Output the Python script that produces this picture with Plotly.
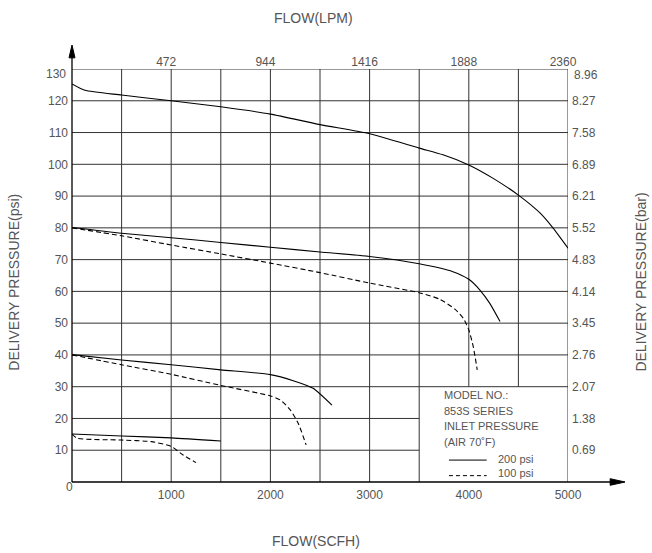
import plotly.graph_objects as go

# ---- data ----
flow_ticks = [1000, 2000, 3000, 4000, 5000]
lpm_labels = ["472", "944", "1416", "1888", "2360"]
psi_ticks = [10, 20, 30, 40, 50, 60, 70, 80, 90, 100, 110, 120, 130]
bar_labels = ["0.69", "1.38", "2.07", "2.76", "3.45", "4.14", "4.83",
              "5.52", "6.21", "6.89", "7.58", "8.27", "8.96"]

flow_200_a = [0, 130, 500, 1000, 1500, 2000, 2500, 3000, 3500, 3740, 4000, 4250, 4500, 4720, 4850, 5000]
psi_200_a = [125.3, 123.3, 121.8, 120.0, 118.1, 115.8, 112.5, 109.6, 105.1, 103.0, 99.8, 95.5, 90.3, 84.6, 79.9, 73.6]

flow_200_b = [0, 500, 1000, 1500, 2000, 2500, 3000, 3500, 3840, 4000, 4110, 4210, 4315]
psi_200_b = [80.1, 78.3, 76.9, 75.4, 73.9, 72.4, 71.0, 68.7, 66.2, 63.8, 60.5, 56.3, 50.5]

flow_100_b = [0, 500, 1000, 1500, 2000, 2500, 3000, 3500, 3710, 3860, 3945, 4000, 4045, 4085]
psi_100_b = [80.0, 77.5, 74.6, 71.8, 68.9, 65.9, 62.6, 59.6, 57.5, 54.4, 51.5, 47.9, 42.6, 35.3]

flow_200_c = [0, 500, 1000, 1500, 2000, 2230, 2430, 2620]
psi_200_c = [40.1, 38.4, 36.9, 35.3, 33.8, 31.9, 29.5, 24.2]

flow_100_c = [0, 500, 1000, 1500, 2000, 2100, 2200, 2280, 2360]
psi_100_c = [40.0, 36.9, 33.9, 30.4, 27.1, 25.8, 22.7, 18.5, 11.7]

flow_200_d = [0, 500, 1000, 1500]
psi_200_d = [15.1, 14.5, 13.9, 12.9]

flow_100_d = [0, 50, 500, 800, 1000, 1120, 1250]
psi_100_d = [15.1, 13.8, 13.2, 12.7, 11.2, 8.5, 6.1]

box_lines = ["MODEL NO.:", "853S SERIES", "INLET PRESSURE", "(AIR 70˚F)"]
legend_labels = ["200 psi", "100 psi"]

FONT = "Liberation Sans, Arial, sans-serif"
TXT = "#555555"
GRID = "#333333"

fig = go.Figure()

curves = [
    (flow_200_a, psi_200_a, "solid"),
    (flow_200_b, psi_200_b, "solid"),
    (flow_100_b, psi_100_b, "5px,3px"),
    (flow_200_c, psi_200_c, "solid"),
    (flow_100_c, psi_100_c, "5px,3px"),
    (flow_200_d, psi_200_d, "solid"),
    (flow_100_d, psi_100_d, "5px,3px"),
]
for xs, ys, dash in curves:
    fig.add_trace(go.Scatter(x=xs, y=ys, mode="lines",
                             line=dict(color="black", width=1.1, dash=dash, shape="spline", smoothing=0.6),
                             hoverinfo="skip", showlegend=False, cliponaxis=False))

fig.add_trace(go.Scatter(x=[0], y=[0], xaxis="x2", yaxis="y2", mode="markers",
                         marker=dict(opacity=0), hoverinfo="skip", showlegend=False))

shapes = []
for v in psi_ticks:
    x1 = 3500 if v < 30 else 5000
    shapes.append(dict(type="line", xref="x", yref="y", x0=0, x1=x1, y0=v, y1=v,
                       line=dict(color=GRID, width=1), layer="below"))
for v in [500, 1000, 1500, 2000, 2500, 3000, 3500, 4000, 4500, 5000]:
    y0 = 30 if v in (4000, 4500) else 0
    shapes.append(dict(type="line", xref="x", yref="y", x0=v, x1=v, y0=y0, y1=130,
                       line=dict(color=GRID, width=1), layer="below"))
shapes.append(dict(type="line", xref="paper", yref="paper", x0=0, x1=0, y0=0, y1=1.04,
                   line=dict(color="black", width=1.3)))
shapes.append(dict(type="line", xref="paper", yref="paper", x0=0, x1=1.1, y0=0, y1=0,
                   line=dict(color="black", width=1.3)))
shapes.append(dict(type="path", xref="paper", yref="paper",
                   path="M -0.006 1.027 L 0 1.058 L 0.006 1.027 Z",
                   fillcolor="black", line=dict(color="black", width=1)))
shapes.append(dict(type="path", xref="paper", yref="paper",
                   path="M 1.085 -0.008 L 1.115 0 L 1.085 0.008 Z",
                   fillcolor="black", line=dict(color="black", width=1)))
shapes.append(dict(type="line", xref="x", yref="y", x0=3800, x1=4180, y0=6.9, y1=6.9,
                   line=dict(color="black", width=1)))
shapes.append(dict(type="line", xref="x", yref="y", x0=3800, x1=4180, y0=2.0, y1=2.0,
                   line=dict(color="black", width=1, dash="4px,3px")))

tickfont = dict(family=FONT, size=12, color=TXT)
titlefont = dict(family=FONT, size=14, color=TXT)

annotations = []
for i, t in enumerate(box_lines):
    annotations.append(dict(x=3730, y=[27.4, 22.5, 17.7, 12.7][i], xref="x", yref="y",
                            text=t, showarrow=False, xanchor="left", yanchor="middle",
                            font=dict(family=FONT, size=11, color=TXT)))
for i, t in enumerate(legend_labels):
    annotations.append(dict(x=4274, y=[7.1, 2.9][i], xref="x", yref="y",
                            text=t, showarrow=False, xanchor="left", yanchor="middle",
                            font=dict(family=FONT, size=11, color=TXT)))
annotations.append(dict(x=0, y=0, xref="x", yref="y", text="0", showarrow=False,
                        xanchor="center", yanchor="middle", xshift=-3, yshift=-5, font=tickfont))
annotations.append(dict(x=0, y=psi_ticks[-1], xref="x", yref="y", text=str(psi_ticks[-1]),
                        showarrow=False, xanchor="right", yanchor="middle", xshift=-4, yshift=-5,
                        font=tickfont))
annotations.append(dict(x=5000, y=psi_ticks[-1], xref="x", yref="y", text=bar_labels[-1],
                        showarrow=False, xanchor="left", yanchor="middle", xshift=4, yshift=-6,
                        font=tickfont))
annotations.append(dict(x=0.486, y=1.124, xref="paper", yref="paper", text="FLOW(LPM)",
                        showarrow=False, xanchor="center", yanchor="middle", font=titlefont))
annotations.append(dict(x=0.492, y=-0.143, xref="paper", yref="paper", text="FLOW(SCFH)",
                        showarrow=False, xanchor="center", yanchor="middle", font=titlefont))
annotations.append(dict(x=-0.117, y=0.485, xref="paper", yref="paper", text="DELIVERY PRESSURE(psi)",
                        textangle=-90, showarrow=False, xanchor="center", yanchor="middle", font=titlefont))
annotations.append(dict(x=1.147, y=0.485, xref="paper", yref="paper", text="DELIVERY PRESSURE(bar)",
                        textangle=-90, showarrow=False, xanchor="center", yanchor="middle", font=titlefont))

fig.update_layout(
    width=652, height=553,
    margin=dict(l=72, r=84, t=69, b=71, autoexpand=False),
    paper_bgcolor="white", plot_bgcolor="white",
    shapes=shapes, annotations=annotations,
    xaxis=dict(range=[0, 5000], tickvals=flow_ticks, ticktext=[str(v) for v in flow_ticks],
               showgrid=False, zeroline=False, showline=False, ticks="", tickfont=tickfont,
               ticklabelstandoff=4, fixedrange=True, automargin=False),
    xaxis2=dict(range=[0, 5000], overlaying="x", side="top", tickvals=flow_ticks, ticktext=lpm_labels,
                showgrid=False, zeroline=False, showline=False, ticks="", tickfont=tickfont,
                ticklabelshift=-5, fixedrange=True, automargin=False),
    yaxis=dict(range=[0, 130], tickvals=psi_ticks[:-1], ticktext=[str(v) for v in psi_ticks[:-1]],
               showgrid=False, zeroline=False, showline=False, ticks="", tickfont=tickfont,
               ticklabelstandoff=3, fixedrange=True, automargin=False),
    yaxis2=dict(range=[0, 130], overlaying="y", side="right", tickvals=psi_ticks[:-1], ticktext=bar_labels[:-1],
                showgrid=False, zeroline=False, showline=False, ticks="", tickfont=tickfont,
                ticklabelstandoff=3, fixedrange=True, automargin=False),
    showlegend=False,
)

fig.write_html("out.html", config={"displayModeBar": False},
               post_script="document.body.style.margin='0';")
